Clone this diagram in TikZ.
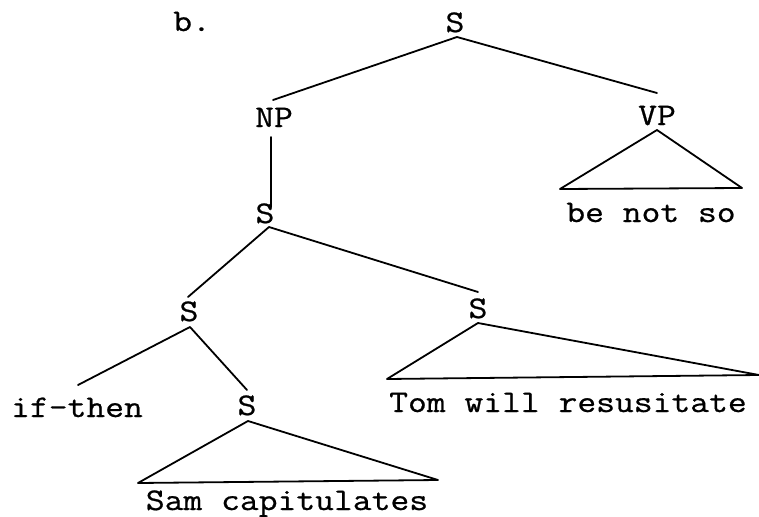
\documentclass[tikz,border=0pt]{standalone}
\usepackage{fontspec}
\newfontfamily\tw[FakeStretch=1.16,FakeBold=0.7]{Latin Modern Mono}
\begin{document}
\begin{tikzpicture}[x=1pt,y=-1pt,
  lbl/.style={inner sep=0pt,anchor=base,font=\tw\fontsize{31.5}{36}\selectfont},
  edge/.style={line width=1.8pt,line join=round,line cap=round}]
\useasboundingbox (0,0) rectangle (759,516);
% labels
\node[lbl,anchor=base west] (b) at (173,31) {b.};
\node[lbl] (S0) at (455,32) {S};
\node[lbl] (NP) at (274,127) {NP};
\node[lbl] (VP) at (657,125) {VP};
\node[lbl] (bns) at (651,222) {be not so};
\node[lbl] (S1) at (265,223) {S};
\node[lbl] (S2) at (189,321) {S};
\node[lbl] (S3) at (478,318) {S};
\node[lbl] (tom) at (568,412) {Tom will resusitate};
\node[lbl] (ift) at (77,417) {if-then};
\node[lbl] (S4) at (247,415) {S};
\node[lbl] (sam) at (287,510) {Sam capitulates};
% connector end points
\coordinate (S0b) at (457,37);
\coordinate (NPt) at (273,100);
\coordinate (VPt) at (657,93);
\coordinate (VPa) at (657,130);
\coordinate (VPl) at (560,189);
\coordinate (VPr) at (742,188);
\coordinate (NPb) at (271,137);
\coordinate (S1t) at (271,207);
\coordinate (S1b) at (269,227);
\coordinate (S2t) at (188,297);
\coordinate (S3t) at (478,292);
\coordinate (S3a) at (478,323);
\coordinate (S3l) at (387,379);
\coordinate (S3r) at (759,375);
\coordinate (S2b) at (190,327);
\coordinate (iftt) at (78,385);
\coordinate (S4t) at (247,390);
\coordinate (S4a) at (248,421);
\coordinate (S4l) at (138,483);
\coordinate (S4r) at (438,480);
% connectors
\draw[edge] (NPt) -- (S0b) -- (VPt);
\draw[edge] (VPa) -- (VPr) -- (VPl) -- cycle;
\draw[edge] (NPb) -- (S1t);
\draw[edge] (S2t) -- (S1b) -- (S3t);
\draw[edge] (S3a) -- (S3r) -- (S3l) -- cycle;
\draw[edge] (iftt) -- (S2b) -- (S4t);
\draw[edge] (S4a) -- (S4r) -- (S4l) -- cycle;
\end{tikzpicture}
\end{document}
